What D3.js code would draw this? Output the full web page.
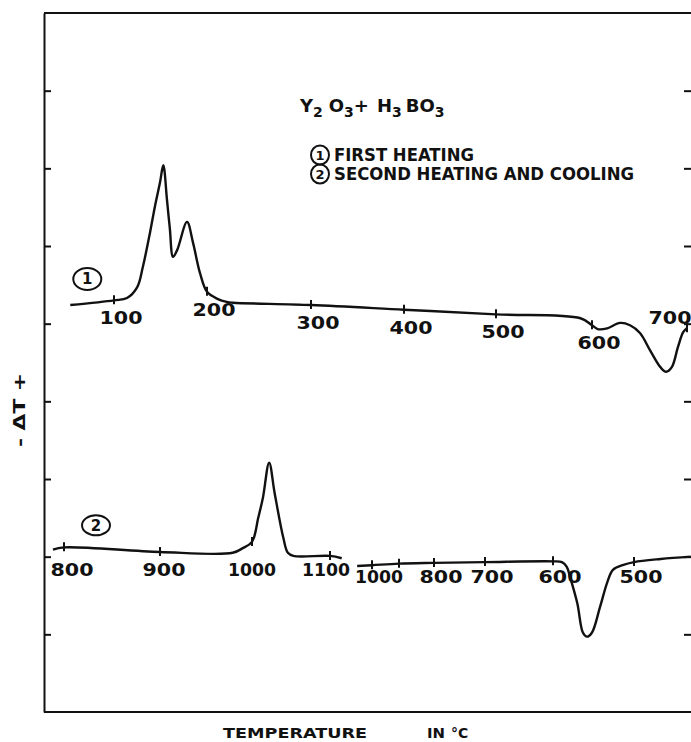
<!DOCTYPE html>
<html>
<head>
<meta charset="utf-8">
<script src="https://cdn.jsdelivr.net/npm/d3@7"></script>
<style>
  body { margin: 0; background: #fff; }
  svg { display: block; }
  text { font-family: "DejaVu Sans", sans-serif; fill: #111; font-weight: bold; }
</style>
</head>
<body>
<svg id="chart" width="691" height="742"></svg>
<script>
// curve 1 - first heating (temperature in C, -dT in chart units)
const firstHeatT  = [53, 100, 114, 125, 131, 139, 144, 149.5, 153, 157, 160, 163.5, 168, 178.5, 185, 192.5, 200, 210, 219, 225, 300, 400, 500, 588, 600, 606, 616, 629.5, 640, 650.5, 661, 672, 678, 684, 690.5, 696, 700];
const firstHeatDT = [5.24, 5.30, 5.33, 5.47, 5.73, 6.19, 6.51, 6.82, 7.04, 6.59, 6.23, 5.86, 5.95, 6.31, 6.04, 5.65, 5.41, 5.32, 5.28, 5.27, 5.24, 5.18, 5.12, 5.07, 4.98, 4.93, 4.94, 5.01, 4.98, 4.88, 4.66, 4.44, 4.38, 4.44, 4.70, 4.89, 4.94];
const firstTicks = [100, 200, 300, 400, 500, 600, 700];

// curve 2 - second heating
const secondHeatT  = [788.5, 800, 900, 979, 990, 1000, 1008, 1014, 1022, 1029, 1040, 1046, 1053, 1100, 1115];
const secondHeatDT = [2.09, 2.12, 2.06, 2.05, 2.11, 2.19, 2.50, 2.76, 3.21, 2.82, 2.25, 2.05, 2.01, 2.01, 1.98];
const secondTicks = [800, 900, 1000, 1100];

// curve 2 - cooling
const coolT  = [1055, 1000, 900, 800, 700, 600, 589, 583, 579, 570, 563, 558, 552, 542, 533, 526, 514, 500, 467, 430];
const coolDT = [1.88, 1.89, 1.91, 1.92, 1.93, 1.94, 1.93, 1.87, 1.74, 1.40, 1.02, 0.97, 1.02, 1.35, 1.67, 1.83, 1.89, 1.93, 1.97, 2.00];
const coolTicks = [1000, 900, 800, 700, 600, 500];
const coolLabels = [1000, 800, 700, 600, 500];

const svg = d3.select("#chart");
const ink = "#111";

// the temperature scale is drawn by hand on each trace, so it is piecewise
const x1 = d3.scaleLinear().domain(firstTicks).range([114, 207, 311, 404, 496, 592, 687]);
const x2 = d3.scaleLinear().domain(secondTicks).range([64, 160, 252, 330]);
const x3 = d3.scaleLinear().domain(coolTicks).range([372, 399, 434, 485, 553, 634]);
const y = d3.scaleLinear().domain([0, 9]).range([712, 13]);

// frame
svg.append("g")
  .attr("transform", "translate(44,0)")
  .call(d3.axisLeft(y).tickValues(d3.range(1, 9)).tickSizeInner(-7).tickSizeOuter(0).tickFormat(""))
  .call(g => g.selectAll("path,line").attr("stroke", ink).attr("stroke-width", 2));
svg.append("g")
  .attr("transform", "translate(691,0)")
  .call(d3.axisRight(y).tickValues(d3.range(1, 9)).tickSizeInner(-7).tickSizeOuter(0).tickFormat(""))
  .call(g => g.select(".domain").remove())
  .call(g => g.selectAll("line").attr("stroke", ink).attr("stroke-width", 2));
svg.append("line").attr("x1", 44).attr("x2", 691).attr("y1", y(9)).attr("y2", y(9))
  .attr("stroke", ink).attr("stroke-width", 2);
svg.append("line").attr("x1", 44).attr("x2", 691).attr("y1", y(0)).attr("y2", y(0))
  .attr("stroke", ink).attr("stroke-width", 2);

function drawTrace(ts, vs, xs, ticks) {
  const pts = ts.map((t, i) => ({t: t, v: vs[i]}));
  const line = d3.line()
    .x(d => xs(d.t))
    .y(d => y(d.v))
    .curve(d3.curveCatmullRom.alpha(0.5));
  svg.append("path")
    .datum(pts)
    .attr("d", line)
    .attr("fill", "none")
    .attr("stroke", ink)
    .attr("stroke-width", 2.4)
    .attr("stroke-linejoin", "round");
  const at = d3.scaleLinear().domain(ts).range(vs);
  svg.append("g").selectAll("line")
    .data(ticks)
    .enter()
    .append("line")
    .attr("x1", d => xs(d)).attr("x2", d => xs(d))
    .attr("y1", d => y(at(d)) - 5).attr("y2", d => y(at(d)) + 4)
    .attr("stroke", ink).attr("stroke-width", 2);
  return at;
}

function tickLabel(txt, x, yy) {
  svg.append("text")
    .attr("x", x).attr("y", yy)
    .attr("text-anchor", "middle")
    .attr("font-size", 17)
    .attr("textLength", String(txt).length == 4 ? 48 : 43)
    .attr("lengthAdjust", "spacingAndGlyphs")
    .text(txt);
}

const at1 = drawTrace(firstHeatT, firstHeatDT, x1, firstTicks);
firstTicks.forEach(t => {
  if (t == 700) tickLabel(t, x1(t) - 17, y(at1(t)) - 4);
  else tickLabel(t, x1(t) + 7, y(at1(t)) + 24);
});

drawTrace(secondHeatT, secondHeatDT, x2, secondTicks);
secondTicks.forEach(t => tickLabel(t, x2(t) + 8 - (t - 800) * 0.04, 576));

drawTrace(coolT, coolDT, x3, coolTicks);
coolLabels.forEach(t => tickLabel(t, x3(t) + 7, 583));

// circled curve numbers
function circled(n, cx, cy, rx, ry, fs) {
  svg.append("ellipse").attr("cx", cx).attr("cy", cy).attr("rx", rx).attr("ry", ry)
    .attr("fill", "none").attr("stroke", ink).attr("stroke-width", 2);
  svg.append("text").attr("x", cx).attr("y", cy + fs * 0.36)
    .attr("text-anchor", "middle").attr("font-size", fs).text(n);
}
circled("1", x1(firstHeatT[0]) + 17, y(firstHeatDT[0]) - 26, 14, 11, 15);
circled("2", x2(800) + 32, y(secondHeatDT[1]) - 22, 14, 10, 15);

// title and legend
const title = svg.append("text").attr("x", 300).attr("y", 112).attr("font-size", 18);
title.append("tspan").text("Y");
title.append("tspan").attr("dy", 5).attr("font-size", 14).text("2");
title.append("tspan").attr("dy", -5).attr("dx", 6).text("O");
title.append("tspan").attr("dy", 5).attr("font-size", 14).text("3");
title.append("tspan").attr("dy", -5).text("+");
title.append("tspan").attr("dx", 8).text("H");
title.append("tspan").attr("dy", 5).attr("font-size", 14).text("3");
title.append("tspan").attr("dy", -5).attr("dx", 4).text("BO");
title.append("tspan").attr("dy", 5).attr("font-size", 14).text("3");

circled("1", 320, 155, 9, 9.5, 13);
circled("2", 320, 174, 9, 9.5, 13);
svg.append("text").attr("x", 334).attr("y", 161).attr("font-size", 17)
  .attr("textLength", 140).attr("lengthAdjust", "spacingAndGlyphs").text("FIRST HEATING");
svg.append("text").attr("x", 334).attr("y", 180).attr("font-size", 17)
  .attr("textLength", 300).attr("lengthAdjust", "spacingAndGlyphs").text("SECOND HEATING AND COOLING");

// axis titles
svg.append("text")
  .attr("transform", "translate(25,410) rotate(-90)")
  .attr("text-anchor", "middle")
  .attr("font-size", 16)
  .attr("textLength", 74).attr("lengthAdjust", "spacingAndGlyphs")
  .text("- \u0394T +");
svg.append("text").attr("x", 223).attr("y", 738).attr("font-size", 14)
  .attr("textLength", 144).attr("lengthAdjust", "spacingAndGlyphs").text("TEMPERATURE");
svg.append("text").attr("x", 427).attr("y", 738).attr("font-size", 14)
  .attr("textLength", 18).attr("lengthAdjust", "spacingAndGlyphs").text("IN");
svg.append("text").attr("x", 451).attr("y", 738).attr("font-size", 14).text("\u00B0C");
</script>
</body>
</html>
